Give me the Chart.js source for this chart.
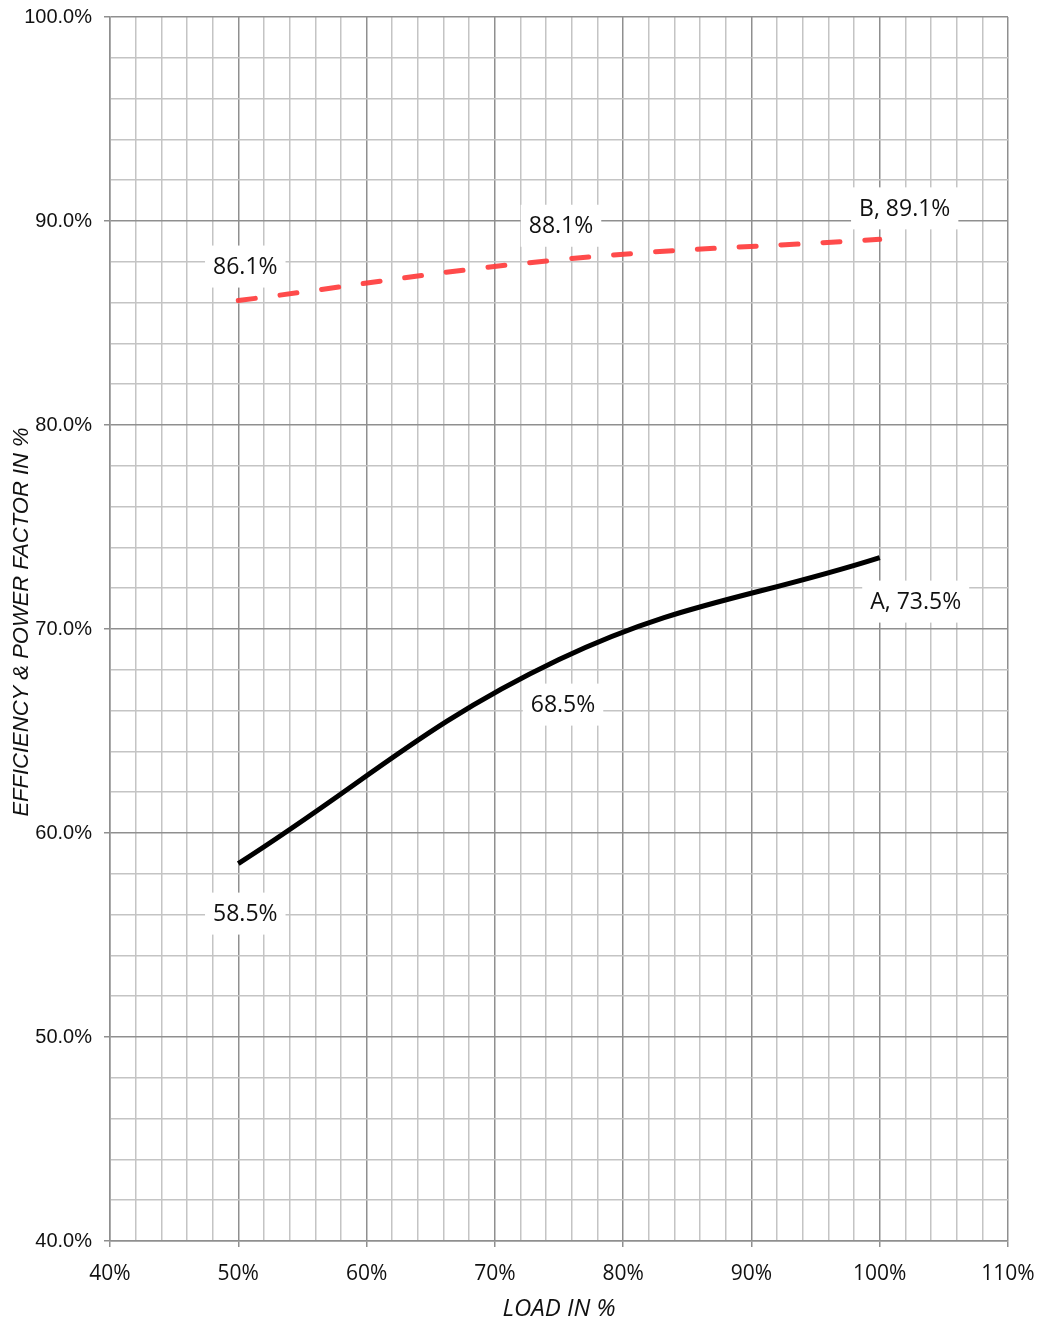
<!DOCTYPE html>
<html>
<head>
<meta charset="utf-8">
<script src="https://cdn.jsdelivr.net/npm/chart.js@4.4.1/dist/chart.umd.min.js"></script>
<style>
    html, body { margin: 0; padding: 0; background: #fff; }
    #wrap { width: 1040px; height: 1324px; }
</style>
</head>
<body>
<div id="wrap"><canvas id="loadChart" width="1040" height="1324"></canvas></div>
<script>
// load points (x axis, %)
const loads = [50, 75, 100];
// series A: solid black, series B: red dashed
const seriesA = [58.5, 68.5, 73.5];
const seriesB = [86.1, 88.1, 89.1];
const seriesNames = ['A', 'B'];

const xMin = 40, xMax = 110;
const yMin = 40, yMax = 100;

const majorGrid = '#8f8f8f';
const minorGrid = '#c4c4c4';

const isMajor = ctx => ctx.tick && Math.round(ctx.tick.value) % 10 === 0;

// data labels with white boxes, Excel style
const pointLabels = {
    id: 'pointLabels',
    afterDatasetsDraw(chart, args, opts) {
        const ctx = chart.ctx;
        ctx.save();
        ctx.font = '23px "Open Sans"';
        ctx.textAlign = 'center';
        ctx.textBaseline = 'middle';
        chart.data.datasets.forEach((ds, di) => {
            const meta = chart.getDatasetMeta(di);
            meta.data.forEach((pt, i) => {
                let text = ds.data[i].y.toFixed(1) + '%';
                if (i === ds.data.length - 1) text = seriesNames[di] + ', ' + text;
                const [dx, dy] = opts.offsets[di][i];
                const cx = pt.x + dx, cy = pt.y + dy;
                const w = ctx.measureText(text).width + 16;
                const h = 42;
                ctx.fillStyle = '#fff';
                ctx.fillRect(cx - w / 2, cy - h / 2, w, h);
                ctx.fillStyle = '#111';
                ctx.fillText(text, cx, cy + 1);
            });
        });
        ctx.restore();
    }
};

// axis titles
const axisTitles = {
    id: 'axisTitles',
    afterDraw(chart) {
        const ctx = chart.ctx;
        const area = chart.chartArea;
        ctx.save();
        ctx.fillStyle = '#111';
        ctx.textAlign = 'center';
        ctx.textBaseline = 'middle';
        ctx.font = 'italic 24px "Open Sans"';
        ctx.fillText('LOAD IN %', (area.left + area.right) / 2, 1309);
        ctx.translate(22, 622);
        ctx.rotate(-Math.PI / 2);
        ctx.font = 'italic 22px "Liberation Sans"';
        ctx.fillText('EFFICIENCY & POWER FACTOR IN %', 0, 0);
        ctx.restore();
    }
};

new Chart(document.getElementById('loadChart'), {
    type: 'line',
    data: {
        datasets: [
            {
                label: 'A',
                data: loads.map((x, i) => ({ x: x, y: seriesA[i] })),
                borderColor: '#000',
                borderWidth: 5,
                tension: 0.4,
                pointRadius: 0,
                fill: false
            },
            {
                label: 'B',
                data: loads.map((x, i) => ({ x: x, y: seriesB[i] })),
                borderColor: 'rgba(255, 60, 60, 0.92)',
                borderWidth: 5,
                borderDash: [17, 25],
                borderCapStyle: 'round',
                tension: 0.4,
                pointRadius: 0,
                fill: false
            }
        ]
    },
    options: {
        responsive: false,
        animation: false,
        layout: { padding: { top: 17, right: 32, left: 0, bottom: 0 } },
        plugins: {
            legend: { display: false },
            tooltip: { enabled: false },
            pointLabels: {
                offsets: [
                    [[7, 50], [4, 45], [36, 44]],
                    [[7, -34], [2, -34], [25, -31]]
                ]
            }
        },
        scales: {
            x: {
                type: 'linear',
                min: xMin,
                max: xMax,
                afterFit: s => { s.height = 83; s.paddingLeft = 0; s.paddingRight = 0; },
                ticks: {
                    stepSize: 2,
                    autoSkip: false,
                    maxRotation: 0,
                    padding: 14,
                    color: '#111',
                    font: { family: 'Open Sans', size: 21 },
                    callback: v => (Math.round(v) % 10 === 0 ? Math.round(v) + '%' : '')
                },
                grid: {
                    color: ctx => (isMajor(ctx) ? majorGrid : minorGrid),
                    tickColor: ctx => (isMajor(ctx) ? majorGrid : 'rgba(0,0,0,0)'),
                    lineWidth: 1.5,
                    tickLength: 6
                },
                border: { color: majorGrid, width: 1.5 }
            },
            y: {
                min: yMin,
                max: yMax,
                afterFit: s => { s.width = 110; s.paddingTop = 0; s.paddingBottom = 0; },
                ticks: {
                    stepSize: 2,
                    autoSkip: false,
                    padding: 12,
                    color: '#111',
                    font: { family: 'Liberation Sans', size: 20 },
                    callback: v => (Math.round(v) % 10 === 0 ? Math.round(v).toFixed(1) + '%' : '')
                },
                grid: {
                    color: ctx => (isMajor(ctx) ? majorGrid : minorGrid),
                    tickColor: ctx => (isMajor(ctx) ? majorGrid : 'rgba(0,0,0,0)'),
                    lineWidth: 1.5,
                    tickLength: 6
                },
                border: { color: majorGrid, width: 1.5 }
            }
        }
    },
    plugins: [pointLabels, axisTitles]
});
</script>
</body>
</html>
